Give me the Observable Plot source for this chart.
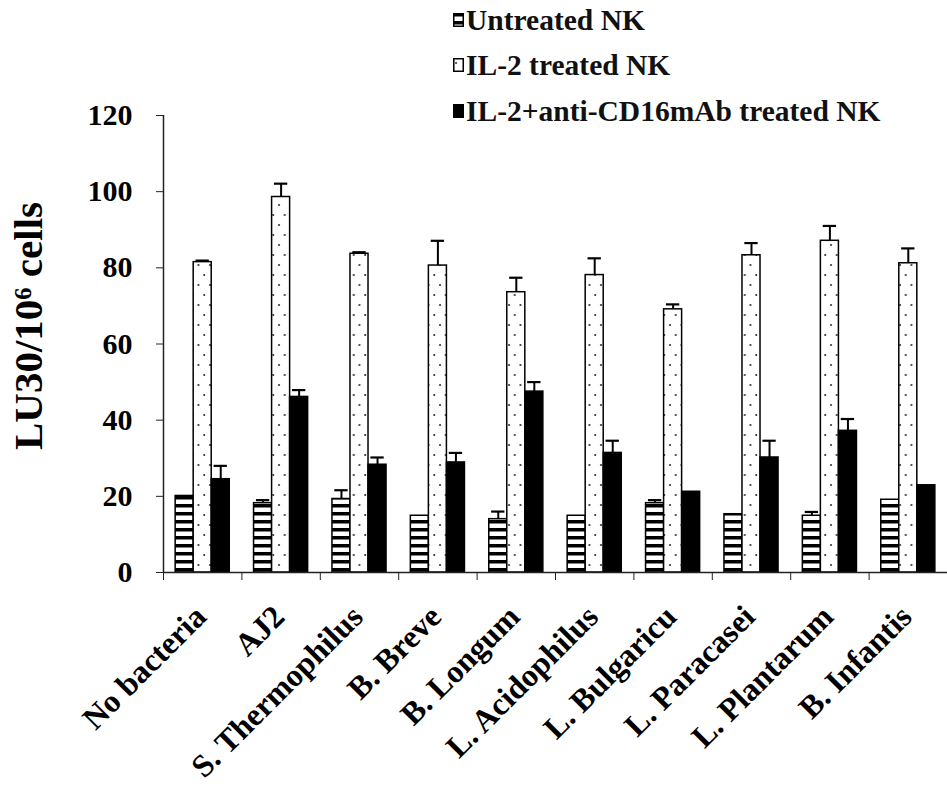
<!DOCTYPE html>
<html>
<head>
<meta charset="utf-8">
<script src="https://cdn.jsdelivr.net/npm/d3@7"></script>
<script src="https://cdn.jsdelivr.net/npm/@observablehq/plot@0.6"></script>
<style>
  html, body { margin: 0; padding: 0; background: #fff; }
  #wrap { position: relative; width: 947px; height: 789px; font-family: "Liberation Serif", "Times New Roman", serif; }
  #legend { position: absolute; left: 453px; top: 0; font-weight: bold; font-size: 29.5px; color: #111; }
  .row { position: absolute; left: 0; white-space: nowrap; display: flex; align-items: center; height: 32px; }
  .row svg { margin-right: 2px; }
</style>
</head>
<body>
<svg width="0" height="0" style="position:absolute">
  <defs>
    <pattern id="stripes" patternUnits="userSpaceOnUse" width="8" height="8">
      <rect width="8" height="8" fill="#fff"/>
      <rect y="0" width="8" height="3.5" fill="#000"/>
    </pattern>
    <pattern id="dots" patternUnits="userSpaceOnUse" width="11.5" height="20">
      <rect width="11.5" height="20" fill="#fff"/>
      <circle cx="3" cy="5" r="1" fill="#222"/>
      <circle cx="8.75" cy="15" r="1" fill="#222"/>
    </pattern>
  </defs>
</svg>
<div id="wrap">
  <div id="chart"></div>
  <div id="legend"></div>
</div>
<script>
// ---- data ----
const categories = ["No bacteria", "AJ2", "S. Thermophilus", "B. Breve", "B. Longum", "L. Acidophilus", "L. Bulgaricu", "L. Paracasei", "L. Plantarum", "B. Infantis"];
const seriesNames = ["Untreated NK", "IL-2 treated NK", "IL-2+anti-CD16mAb treated NK"];
const untreated    = [20.1, 18.2, 19.3, 14.9, 14.0, 14.9, 18.2, 15.3, 14.9, 19.1];
const untreatedErr = [0, 0.8, 2.3, 0, 2.0, 0, 0.8, 0, 1.0, 0];
const il2          = [81.5, 98.6, 83.7, 80.6, 73.6, 78.1, 69.1, 83.3, 87.1, 81.2];
const il2Err       = [0.4, 3.5, 0.4, 6.5, 3.8, 4.4, 1.3, 3.2, 3.9, 3.9];
const il2cd16      = [24.5, 46.1, 28.3, 28.9, 47.5, 31.4, 21.2, 30.2, 37.2, 22.9];
const il2cd16Err   = [3.5, 1.8, 1.9, 2.5, 2.5, 3.2, 0, 4.4, 3.1, 0];
const yTicks = [0, 20, 40, 60, 80, 100, 120];
const yLabel = "LU30/10\u2076 cells";

const seriesFills = ["url(#stripes)", "url(#dots)", "#000"];
const valueSets = [untreated, il2, il2cd16];
const errSets = [untreatedErr, il2Err, il2cd16Err];

// table built from arrays
const rows = [];
categories.forEach((c, i) => {
  seriesNames.forEach((s, j) => {
    rows.push({cat: c, i, series: s, j, value: valueSets[j][i], err: errSets[j][i]});
  });
});

// group layout inside each category band (fractions of the band)
const groupStart = 0.155, barW = 0.23, capHalf = 0.085;
const x1 = d => d.i + groupStart + d.j * barW;
const x2 = d => d.i + groupStart + (d.j + 1) * barW;
const xc = d => d.i + groupStart + (d.j + 0.5) * barW;

const font = "Liberation Serif, Times New Roman, serif";
const errRows = rows.filter(d => d.err > 0);

const chart = Plot.plot({
  width: 947,
  height: 789,
  marginTop: 115,
  marginBottom: 217,
  marginLeft: 163,
  marginRight: 0,
  style: {fontFamily: font, color: "#000", background: "transparent", overflow: "visible"},
  x: {domain: [0, categories.length], axis: null},
  y: {domain: [0, 120], axis: null},
  marks: [
    ...seriesNames.map((s, j) => Plot.rectY(rows.filter(d => d.j === j), {
      x1, x2, y1: 0, y2: "value",
      fill: seriesFills[j], stroke: "#000", strokeWidth: 1.5
    })),
    Plot.ruleX(errRows, {x: xc, y1: "value", y2: d => d.value + d.err, stroke: "#000", strokeWidth: 2}),
    Plot.ruleY(errRows, {y: d => d.value + d.err, x1: d => xc(d) - capHalf, x2: d => xc(d) + capHalf, stroke: "#000", strokeWidth: 2.2}),
    Plot.ruleY([0], {stroke: "#222", strokeWidth: 1.5}),
    Plot.ruleX([0], {stroke: "#222", strokeWidth: 1.5}),
    Plot.axisY({ticks: yTicks, tickSize: 7, tickPadding: 24, fontSize: 30, fontWeight: "bold", label: null, stroke: "#222"}),
    Plot.axisX({ticks: d3.range(0, categories.length + 1), tickSize: 8, tickFormat: () => "", label: null, stroke: "#222"}),
    Plot.text(categories, {
      x: (d, i) => i + 0.5, y: 0, text: d => d,
      rotate: -45, textAnchor: "end", dx: -2, dy: 39,
      fontSize: 32, fontWeight: "bold", fill: "#000"
    }),
    Plot.text([yLabel], {
      frameAnchor: "left", text: d => d, rotate: -90, textAnchor: "middle", dx: -135, dy: -18,
      fontSize: 41, fontWeight: "bold", fill: "#000"
    })
  ]
});
document.getElementById("chart").appendChild(chart);

// legend (HTML, overlaid top right)
const legend = document.getElementById("legend");
const rowTops = [4, 49, 95];
seriesNames.forEach((s, j) => {
  const row = document.createElement("div");
  row.className = "row";
  row.style.top = rowTops[j] + "px";
  row.innerHTML = `<svg width="11" height="14"><rect x="0.75" y="0.75" width="9.5" height="12.5" fill="${seriesFills[j]}" stroke="#000" stroke-width="1.5"/></svg><span>${s}</span>`;
  legend.appendChild(row);
});
</script>
</body>
</html>
